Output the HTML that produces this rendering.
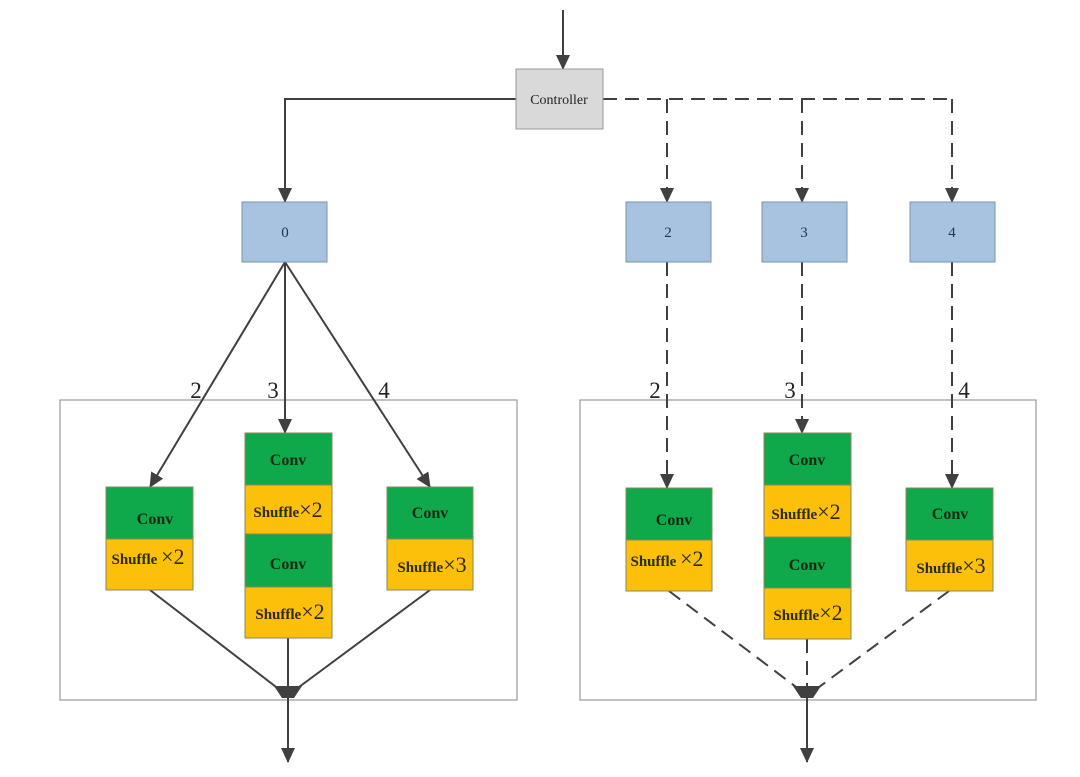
<!DOCTYPE html>
<html><head><style>body{margin:0;background:#fff}svg{display:block}</style></head><body>
<svg width="1080" height="777" viewBox="0 0 1080 777" xmlns="http://www.w3.org/2000/svg" font-family="Liberation Serif, serif">
<defs>
<marker id="a" markerWidth="16" markerHeight="14" refX="14" refY="7" orient="auto" markerUnits="userSpaceOnUse"><path d="M0,0 L15,7 L0,14 Z" fill="#404040"/></marker>
</defs>
<g stroke="#999" fill="none" stroke-width="1.2">
<rect x="60" y="400" width="457" height="300"/>
<rect x="580" y="400" width="456" height="300"/>
</g>
<g stroke="#404040" stroke-width="2" fill="none">
<line x1="563" y1="10" x2="563" y2="69" marker-end="url(#a)"/>
<polyline points="516,99 285,99 285,202" marker-end="url(#a)"/>
<line x1="285" y1="262" x2="150" y2="487" marker-end="url(#a)"/>
<line x1="285" y1="262" x2="285" y2="433" marker-end="url(#a)"/>
<line x1="285" y1="262" x2="430" y2="487" marker-end="url(#a)"/>
<line x1="150" y1="590" x2="280" y2="690"/>
<line x1="288" y1="638" x2="288" y2="690"/>
<line x1="430" y1="590" x2="295" y2="690"/>
<line x1="288" y1="692" x2="288" y2="762" marker-end="url(#a)"/>
<g stroke-dasharray="14,8">
<line x1="603" y1="99" x2="952" y2="99"/>
<line x1="667" y1="99" x2="667" y2="202" marker-end="url(#a)"/>
<line x1="802" y1="99" x2="802" y2="202" marker-end="url(#a)"/>
<line x1="952" y1="99" x2="952" y2="202" marker-end="url(#a)"/>
<line x1="667" y1="262" x2="667" y2="488" marker-end="url(#a)"/>
<line x1="802" y1="262" x2="802" y2="433" marker-end="url(#a)"/>
<line x1="952" y1="262" x2="952" y2="488" marker-end="url(#a)"/>
<line x1="669" y1="591" x2="800" y2="690"/>
<line x1="807" y1="639" x2="807" y2="690"/>
<line x1="949" y1="591" x2="815" y2="690"/>
</g>
<line x1="807" y1="692" x2="807" y2="762" marker-end="url(#a)"/>
</g>
<path d="M274,686 L302,686 L294,698 L282,698 Z" fill="#404040"/>
<path d="M793,686 L821,686 L813,698 L801,698 Z" fill="#404040"/>
<rect x="516" y="69" width="87" height="60" fill="#d9d9d9" stroke="#999"/>
<text x="559" y="104" font-size="14" text-anchor="middle" fill="#222">Controller</text>
<g fill="#a7c3df" stroke="#7a93ad">
<rect x="242" y="202" width="85" height="60"/><rect x="626" y="202" width="85" height="60"/>
<rect x="762" y="202" width="85" height="60"/><rect x="910" y="202" width="85" height="60"/>
</g>
<g font-size="15" text-anchor="middle" fill="#1f3550">
<text x="285" y="237">0</text><text x="668" y="237">2</text><text x="804" y="237">3</text><text x="952" y="237">4</text>
</g>
<g font-size="23" fill="#222" text-anchor="middle">
<text x="196" y="398">2</text><text x="273" y="398">3</text><text x="384" y="398">4</text>
<text x="655" y="398">2</text><text x="790" y="398">3</text><text x="964" y="398">4</text>
</g>
<g stroke="#8a8a5a" stroke-width="1">
<rect x="106" y="487" width="87" height="52" fill="#0fa84a"/><rect x="106" y="539" width="87" height="51" fill="#fcbf0a"/>
<rect x="245" y="433" width="87" height="52" fill="#0fa84a"/><rect x="245" y="485" width="87" height="49" fill="#fcbf0a"/>
<rect x="245" y="534" width="87" height="53" fill="#0fa84a"/><rect x="245" y="587" width="87" height="51" fill="#fcbf0a"/>
<rect x="387" y="487" width="86" height="52" fill="#0fa84a"/><rect x="387" y="539" width="86" height="51" fill="#fcbf0a"/>
<rect x="626" y="488" width="86" height="52" fill="#0fa84a"/><rect x="626" y="540" width="86" height="51" fill="#fcbf0a"/>
<rect x="764" y="433" width="87" height="52" fill="#0fa84a"/><rect x="764" y="485" width="87" height="52" fill="#fcbf0a"/>
<rect x="764" y="537" width="87" height="51" fill="#0fa84a"/><rect x="764" y="588" width="87" height="51" fill="#fcbf0a"/>
<rect x="906" y="488" width="87" height="52" fill="#0fa84a"/><rect x="906" y="540" width="87" height="51" fill="#fcbf0a"/>
</g>
<g font-size="16" fill="#0f2a10" font-weight="bold" text-anchor="middle">
<text x="155" y="524">Conv</text><text x="288" y="465">Conv</text><text x="288" y="569">Conv</text><text x="430" y="518">Conv</text>
<text x="674" y="525">Conv</text><text x="807" y="465">Conv</text><text x="807" y="570">Conv</text><text x="950" y="519">Conv</text>
</g>
<g font-size="15" fill="#2a2a10" text-anchor="middle">
<text x="148" y="564"><tspan font-weight="bold">Shuffle</tspan> <tspan font-size="22">×2</tspan></text>
<text x="288" y="517"><tspan font-weight="bold">Shuffle</tspan><tspan font-size="22">×2</tspan></text>
<text x="290" y="619"><tspan font-weight="bold">Shuffle</tspan><tspan font-size="22">×2</tspan></text>
<text x="432" y="572"><tspan font-weight="bold">Shuffle</tspan><tspan font-size="22">×3</tspan></text>
<text x="667" y="566"><tspan font-weight="bold">Shuffle</tspan> <tspan font-size="22">×2</tspan></text>
<text x="806" y="519"><tspan font-weight="bold">Shuffle</tspan><tspan font-size="22">×2</tspan></text>
<text x="808" y="620"><tspan font-weight="bold">Shuffle</tspan><tspan font-size="22">×2</tspan></text>
<text x="951" y="573"><tspan font-weight="bold">Shuffle</tspan><tspan font-size="22">×3</tspan></text>
</g>
</svg>
</body></html>
